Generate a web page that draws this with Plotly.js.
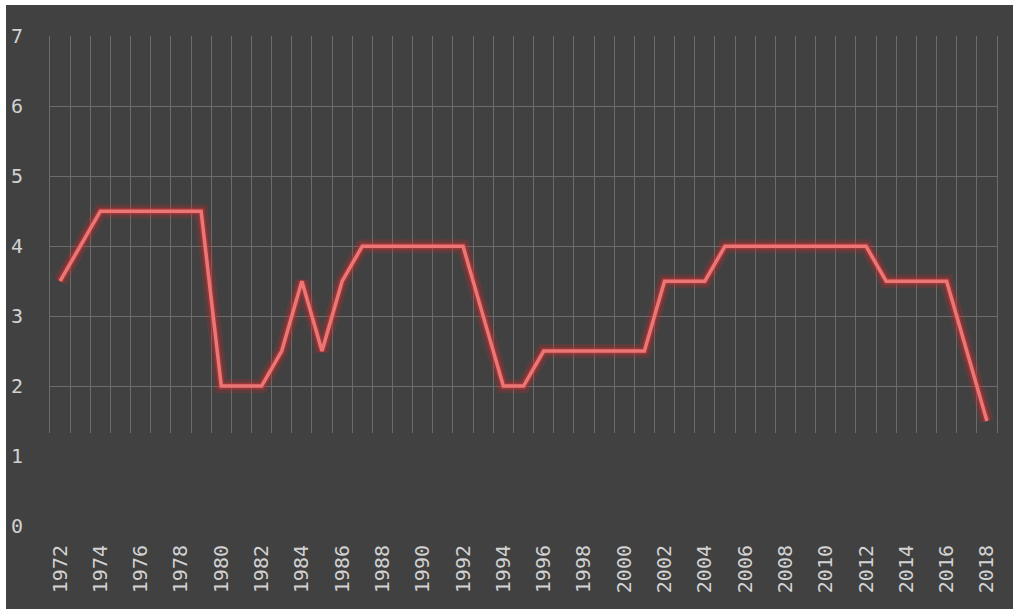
<!DOCTYPE html>
<html>
<head>
<meta charset="utf-8">
<script src="https://cdn.plot.ly/plotly-3.0.1.min.js"></script>
<style>
  html, body { margin: 0; padding: 0; background: #ffffff; width: 1013px; height: 609px; overflow: hidden; }
  #chart { position: absolute; left: 6px; top: 5px; width: 1007px; height: 604px; }
</style>
</head>
<body>
<div id="chart"></div>
<script>
const years = [1972,1973,1974,1975,1976,1977,1978,1979,1980,1981,1982,1983,1984,1985,1986,1987,1988,1989,1990,1991,1992,1993,1994,1995,1996,1997,1998,1999,2000,2001,2002,2003,2004,2005,2006,2007,2008,2009,2010,2011,2012,2013,2014,2015,2016,2017,2018];
const values = [3.5,4,4.5,4.5,4.5,4.5,4.5,4.5,2,2,2,2.5,3.5,2.5,3.5,4,4,4,4,4,4,3,2,2,2.5,2.5,2.5,2.5,2.5,2.5,3.5,3.5,3.5,4,4,4,4,4,4,4,4,3.5,3.5,3.5,3.5,2.5,1.5];
const xTickVals = [1972,1974,1976,1978,1980,1982,1984,1986,1988,1990,1992,1994,1996,1998,2000,2002,2004,2006,2008,2010,2012,2014,2016,2018];
const yTickVals = [0,1,2,3,4,5,6,7];

const bg = '#414141';
const grid = '#6c6c6c';
const tickFont = { family: 'DejaVu Sans Mono, monospace', size: 20, color: '#d2d2d2' };

// the grid only covers the upper part of the plot (it fades out below ~1.33)
const gridBottom = 1.33;
const yMax = 7;

const traces = [
  // invisible trace that carries the labelled axes
  { x: years, y: values, xaxis: 'x', yaxis: 'y', type: 'scatter', mode: 'lines',
    line: { color: 'rgba(0,0,0,0)', width: 0 }, hoverinfo: 'skip', showlegend: false },
  { x: years, y: values, xaxis: 'x2', yaxis: 'y2', type: 'scatter', mode: 'lines',
    line: { color: 'rgba(210,40,40,0.22)', width: 14 }, hoverinfo: 'skip', showlegend: false, cliponaxis: false },
  { x: years, y: values, xaxis: 'x2', yaxis: 'y2', type: 'scatter', mode: 'lines',
    line: { color: 'rgba(215,50,50,0.45)', width: 7 }, hoverinfo: 'skip', showlegend: false, cliponaxis: false },
  { x: years, y: values, xaxis: 'x2', yaxis: 'y2', type: 'scatter', mode: 'lines',
    line: { color: '#ec7676', width: 3.5 }, showlegend: false, cliponaxis: false }
];

const layout = {
  width: 1007, height: 604,
  paper_bgcolor: bg, plot_bgcolor: 'rgba(0,0,0,0)',
  margin: { l: 44, r: 16, t: 31, b: 83 },
  showlegend: false,
  xaxis: {
    range: [1971.5, 2018.5], domain: [0, 1], anchor: 'y',
    tickmode: 'array', tickvals: xTickVals, ticktext: xTickVals.map(String),
    tickangle: -90, tickfont: tickFont,
    ticks: 'outside', ticklen: 10, tickcolor: 'rgba(0,0,0,0)',
    showgrid: false, zeroline: false, showline: false
  },
  yaxis: {
    range: [0, yMax], domain: [0, 1], anchor: 'x',
    tickmode: 'array', tickvals: yTickVals, ticktext: yTickVals.map(String),
    tickfont: tickFont,
    ticks: 'outside', ticklen: 22, tickcolor: 'rgba(0,0,0,0)',
    showgrid: false, zeroline: false, showline: false
  },
  xaxis2: {
    range: [1971.5, 2018.5], domain: [0, 1], anchor: 'y2',
    showticklabels: false, ticks: '', showgrid: false, zeroline: false, showline: false,
    minor: { tick0: 1971.5, dtick: 1, showgrid: true, gridcolor: grid, gridwidth: 1, ticks: '' }
  },
  yaxis2: {
    range: [gridBottom, yMax + 0.006], domain: [gridBottom / yMax, 1 + 0.006 / yMax], anchor: 'x2',
    tickmode: 'array', tickvals: yTickVals, showticklabels: false, ticks: '',
    showgrid: true, gridcolor: grid, gridwidth: 1, zeroline: false,
    showline: true, mirror: true, linecolor: grid, linewidth: 1
  }
};

Plotly.newPlot('chart', traces, layout, { displayModeBar: false, staticPlot: true });
</script>
</body>
</html>
